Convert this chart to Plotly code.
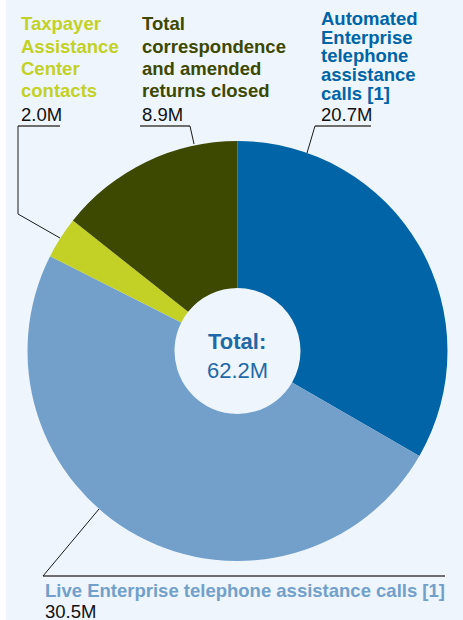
import plotly.graph_objects as go

# ---- data ----
categories = [
    "Automated Enterprise telephone assistance calls [1]",
    "Live Enterprise telephone assistance calls [1]",
    "Taxpayer Assistance Center contacts",
    "Total correspondence and amended returns closed",
]
values = [20.7, 30.5, 2.0, 8.9]
value_labels = ["20.7M", "30.5M", "2.0M", "8.9M"]
label_lines = [
    ["Automated", "Enterprise", "telephone", "assistance", "calls [1]"],
    ["Live Enterprise telephone assistance calls [1]"],
    ["Taxpayer", "Assistance", "Center", "contacts"],
    ["Total", "correspondence", "and amended", "returns closed"],
]
total_label = "62.2M"
colors = ["#0064A6", "#72A0CB", "#C3D126", "#3D4800"]

W, H = 463, 620
BG = "#EEF5FC"
FONT = "Liberation Sans, Arial, sans-serif"


def px(x):
    return x / W


def py(y):
    return 1 - y / H


# pie geometry (pixels)
cx, cy, r = 237.5, 351, 210

fig = go.Figure(
    go.Pie(
        labels=categories,
        values=values,
        marker=dict(colors=colors, line=dict(width=0)),
        hole=0.30,
        sort=False,
        direction="clockwise",
        rotation=0,
        textinfo="none",
        hoverinfo="label+value",
        showlegend=False,
        domain=dict(x=[px(cx - r), px(cx + r)], y=[py(cy + r), py(cy - r)]),
    )
)

annotations = []
shapes = []

# label placement (pixel positions of each line's vertical center)
label_pos = [
    dict(x=319, ys=[18.3, 37, 55.7, 74.3, 93], vy=114.5),   # Automated
    dict(x=43, ys=[590], vy=611),                           # Live
    dict(x=19, ys=[24, 46.3, 68.6, 91], vy=114.5),          # TAC
    dict(x=140, ys=[24, 46.3, 68.6, 91], vy=114.5),         # Correspondence
]

for i, pos in enumerate(label_pos):
    for line, yy in zip(label_lines[i], pos["ys"]):
        annotations.append(dict(
            x=px(pos["x"]), y=py(yy), xref="paper", yref="paper",
            xanchor="left", yanchor="middle", showarrow=False,
            text=f"<b>{line}</b>",
            font=dict(family=FONT, size=18.5, color=colors[i]),
        ))
    annotations.append(dict(
        x=px(pos["x"]), y=py(pos["vy"]), xref="paper", yref="paper",
        xanchor="left", yanchor="middle", showarrow=False,
        text=value_labels[i],
        font=dict(family=FONT, size=18.5, color="#111111"),
    ))

# center total
annotations.append(dict(
    x=px(cx), y=py(341), xref="paper", yref="paper", showarrow=False,
    text="<b>Total:</b>", font=dict(family=FONT, size=22, color="#1F69A6"),
))
annotations.append(dict(
    x=px(cx), y=py(370), xref="paper", yref="paper", showarrow=False,
    text=total_label, font=dict(family=FONT, size=22, color="#1F69A6"),
))

# underlines (gray) and leader lines (black)
underlines = [(315, 371, 126), (43, 445, 576), (18, 60, 126), (140, 190, 126)]
for x0, x1, yy in underlines:
    shapes.append(dict(type="line", xref="paper", yref="paper",
                       x0=px(x0), x1=px(x1), y0=py(yy), y1=py(yy),
                       line=dict(color="#6E6E6E", width=2)))

leaders = [
    [(315, 126), (307, 153)],
    [(43, 576), (99, 509)],
    [(18, 126), (18, 214), (60, 238)],
    [(190, 126), (194, 144)],
]
for pts in leaders:
    path = "M " + " L ".join(f"{px(x)},{py(y)}" for x, y in pts)
    shapes.append(dict(type="path", xref="paper", yref="paper", path=path,
                       line=dict(color="#1A1A1A", width=1)))

# white strip on the left edge
shapes.append(dict(type="rect", xref="paper", yref="paper", x0=0, x1=px(6),
                   y0=0, y1=1, fillcolor="white", line=dict(width=0), layer="below"))

fig.update_layout(
    width=W, height=H,
    margin=dict(l=0, r=0, t=0, b=0),
    paper_bgcolor=BG, plot_bgcolor=BG,
    annotations=annotations,
    shapes=shapes,
)

fig.write_html(
    "out.html",
    config={"displayModeBar": False},
    post_script="document.body.style.margin='0';document.body.style.overflow='hidden';",
)
